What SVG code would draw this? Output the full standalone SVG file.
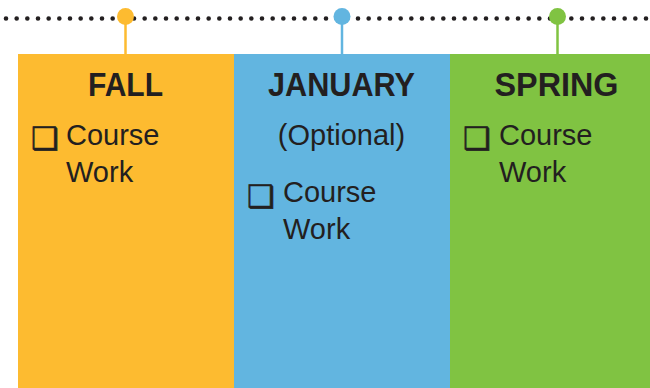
<svg xmlns="http://www.w3.org/2000/svg" width="650" height="388" viewBox="0 0 650 388">
  <style>
    .head { font-family: "Liberation Sans", Arial, sans-serif; font-weight: bold; font-size: 34px; fill: #231f20; text-anchor: middle; }
    .body { font-family: "Liberation Sans", Arial, sans-serif; font-size: 29px; fill: #231f20; }
    .box { font-family: "DejaVu Sans", sans-serif; font-size: 31px; fill: #231f20; }
    .dots { stroke: #231f20; stroke-width: 4.6; stroke-linecap: round; stroke-dasharray: 0 10.6667; fill: none; }
  </style>
  <rect width="650" height="388" fill="#ffffff"/>
  <g id="connectors">
    <line class="dots" x1="6" y1="18.5" x2="646.5" y2="18.5"/>
    <line x1="125.5" y1="17" x2="125.5" y2="54" stroke="#FDBB30" stroke-width="2.5"/>
    <line x1="342" y1="17" x2="342" y2="54" stroke="#62B5E0" stroke-width="2.5"/>
    <line x1="557.5" y1="17" x2="557.5" y2="54" stroke="#80C342" stroke-width="2.5"/>
    <circle cx="125.5" cy="16.5" r="8.5" fill="#FDBB30"/>
    <circle cx="342" cy="16.5" r="8.5" fill="#62B5E0"/>
    <circle cx="557.5" cy="16.5" r="8.5" fill="#80C342"/>
  </g>
  <g id="fall">
    <rect x="18" y="54" width="216" height="334" fill="#FDBB30"/>
    <text class="head" x="125.5" y="96" textLength="75" lengthAdjust="spacingAndGlyphs">FALL</text>
    <text class="box" x="31" y="149" stroke="#231f20" stroke-width="0.6">❑</text>
    <text class="body" x="66" y="145">Course</text>
    <text class="body" x="66" y="182">Work</text>
  </g>
  <g id="january">
    <rect x="234" y="54" width="216" height="334" fill="#62B5E0"/>
    <text class="head" x="341.5" y="96" textLength="147" lengthAdjust="spacingAndGlyphs">JANUARY</text>
    <text class="body" x="341.5" y="145" text-anchor="middle">(Optional)</text>
    <text class="box" x="247" y="207" stroke="#231f20" stroke-width="0.6">❑</text>
    <text class="body" x="283" y="202">Course</text>
    <text class="body" x="283" y="239">Work</text>
  </g>
  <g id="spring">
    <rect x="450" y="54" width="200" height="334" fill="#80C342"/>
    <text class="head" x="556.5" y="96" textLength="124" lengthAdjust="spacingAndGlyphs">SPRING</text>
    <text class="box" x="463" y="149" stroke="#231f20" stroke-width="0.6">❑</text>
    <text class="body" x="499" y="145">Course</text>
    <text class="body" x="499" y="182">Work</text>
  </g>
</svg>
